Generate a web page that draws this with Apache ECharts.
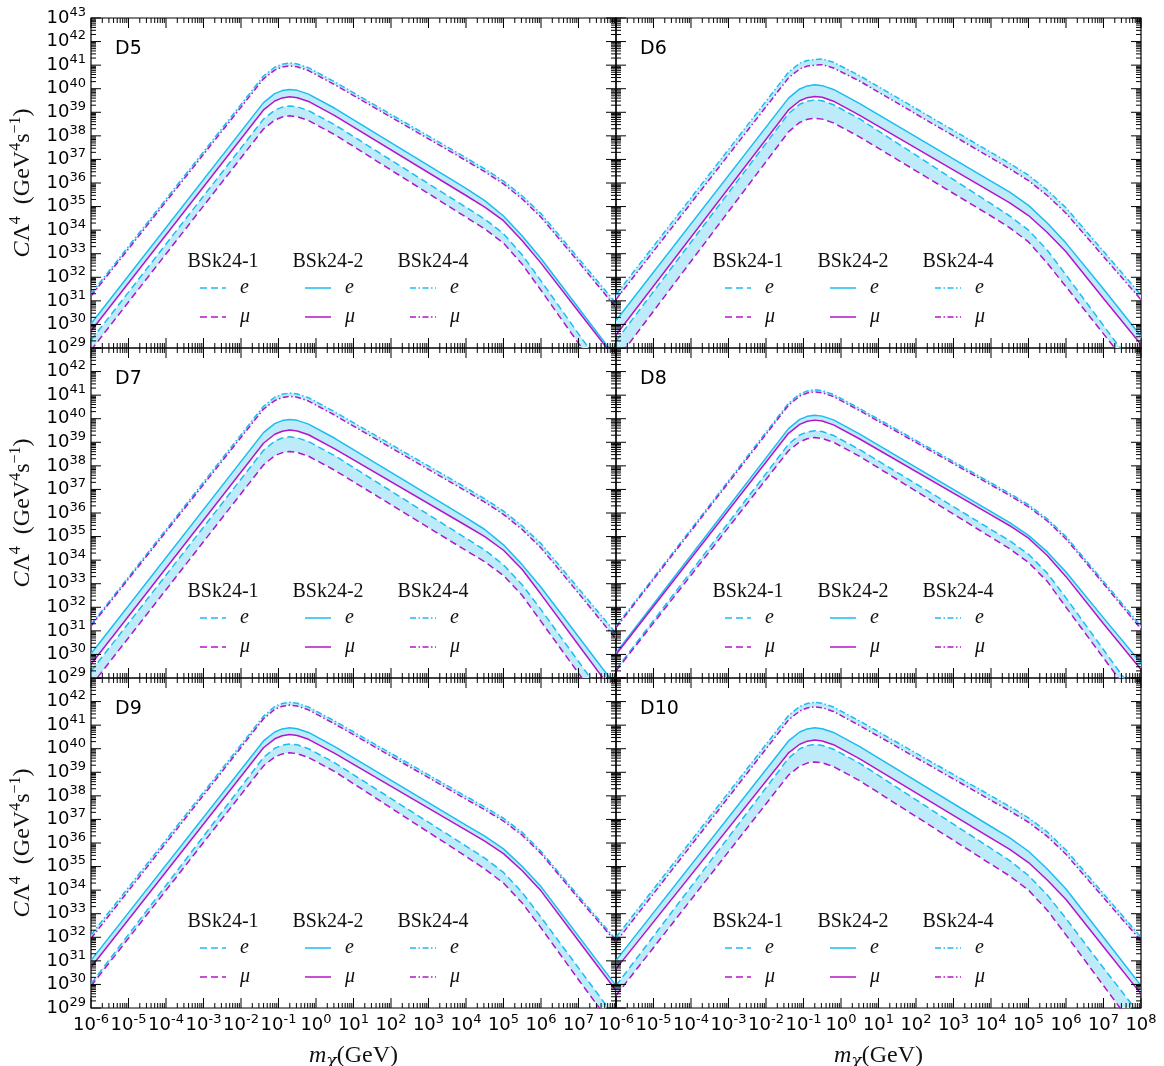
<!DOCTYPE html>
<html>
<head>
<meta charset="utf-8">
<script src="https://cdn.jsdelivr.net/npm/echarts@6/dist/echarts.min.js"></script>
<style>
  html, body { margin: 0; background: #fff; }
  #chart { width: 1164px; height: 1066px; }
</style>
</head>
<body>
<div id="chart"></div>
<script>
const massExp = [-6, -1.4, -1.1, -0.9, -0.7, -0.5, -0.2, 0.5, 4, 4.5, 5, 5.5, 6, 7, 8];

// log10(C Lambda^4 / GeV^4 s^-1) -- BSk24-1 (1), BSk24-2 (2), BSk24-4 (4), e / mu
const d5_1e  = [29.33, 38.71, 39.09, 39.22, 39.27, 39.23, 39.07, 38.47, 34.97, 34.47, 33.85, 32.95, 31.85, 29.6, 27.4];
const d5_1mu = [28.91, 38.29, 38.67, 38.8, 38.85, 38.81, 38.65, 38.05, 34.55, 34.05, 33.45, 32.55, 31.45, 29.2, 27.0];
const d5_2e  = [30.03, 39.41, 39.79, 39.92, 39.97, 39.93, 39.77, 39.17, 35.77, 35.25, 34.6, 33.75, 32.8, 30.7, 28.6];
const d5_2mu = [29.72, 39.1, 39.48, 39.61, 39.66, 39.62, 39.46, 38.86, 35.47, 34.98, 34.4, 33.55, 32.6, 30.55, 28.5];
const d5_4e  = [31.3, 40.54, 40.91, 41.04, 41.09, 41.05, 40.89, 40.29, 37.07, 36.6, 36.08, 35.45, 34.7, 32.8, 30.9];
const d5_4mu = [31.2, 40.42, 40.79, 40.92, 40.97, 40.93, 40.77, 40.17, 36.95, 36.48, 35.96, 35.32, 34.55, 32.65, 30.72];

const d6_1e  = [29.3, 38.94, 39.34, 39.47, 39.52, 39.49, 39.32, 38.72, 35.12, 34.6, 34.0, 33.15, 32.1, 29.95, 27.8];
const d6_1mu = [28.45, 38.17, 38.57, 38.7, 38.75, 38.71, 38.55, 37.95, 34.6, 34.1, 33.5, 32.6, 31.6, 29.6, 27.6];
const d6_2e  = [30.17, 39.6, 39.99, 40.12, 40.17, 40.13, 39.97, 39.37, 36.08, 35.61, 35.05, 34.3, 33.45, 31.5, 29.5];
const d6_2mu = [29.55, 39.1, 39.49, 39.62, 39.67, 39.64, 39.47, 38.87, 35.62, 35.16, 34.62, 33.9, 33.08, 31.1, 29.15];
const d6_4e  = [31.27, 40.7, 41.08, 41.2, 41.24, 41.26, 41.12, 40.55, 37.3, 36.83, 36.33, 35.7, 34.95, 33.1, 31.25];
const d6_4mu = [31.06, 40.46, 40.84, 40.96, 41.0, 41.02, 40.88, 40.32, 37.07, 36.6, 36.1, 35.47, 34.72, 32.88, 31.05];

const d7_1e  = [29.29, 38.66, 39.05, 39.18, 39.23, 39.19, 39.03, 38.43, 34.93, 34.43, 33.8, 32.95, 31.9, 29.7, 27.5];
const d7_1mu = [28.67, 38.04, 38.43, 38.56, 38.61, 38.57, 38.41, 37.81, 34.41, 33.93, 33.35, 32.5, 31.4, 29.2, 27.0];
const d7_2e  = [30.03, 39.41, 39.79, 39.92, 39.97, 39.93, 39.77, 39.17, 35.8, 35.3, 34.65, 33.8, 32.85, 30.75, 28.65];
const d7_2mu = [29.58, 38.96, 39.34, 39.47, 39.52, 39.48, 39.32, 38.72, 35.47, 35.0, 34.42, 33.6, 32.55, 30.4, 28.25];
const d7_4e  = [31.27, 40.53, 40.91, 41.04, 41.09, 41.05, 40.89, 40.29, 37.07, 36.6, 36.08, 35.45, 34.7, 32.8, 30.9];
const d7_4mu = [31.2, 40.41, 40.77, 40.9, 40.95, 40.91, 40.75, 40.15, 36.93, 36.46, 35.94, 35.3, 34.52, 32.6, 30.65];

const d8_1e  = [29.36, 38.92, 39.31, 39.44, 39.49, 39.46, 39.29, 38.69, 35.3, 34.82, 34.25, 33.45, 32.4, 30.2, 28.0];
const d8_1mu = [29.3, 38.64, 39.02, 39.15, 39.2, 39.16, 39.0, 38.4, 34.97, 34.48, 33.9, 33.1, 32.0, 29.85, 27.7];
const d8_2e  = [30.07, 39.58, 39.97, 40.1, 40.15, 40.11, 39.95, 39.35, 36.06, 35.59, 35.05, 34.35, 33.5, 31.55, 29.64];
const d8_2mu = [30.0, 39.38, 39.76, 39.89, 39.94, 39.9, 39.74, 39.14, 35.92, 35.46, 34.93, 34.2, 33.3, 31.3, 29.36];
const d8_4e  = [31.2, 40.66, 41.05, 41.18, 41.23, 41.19, 41.03, 40.43, 37.28, 36.83, 36.35, 35.75, 35.0, 33.1, 31.2];
const d8_4mu = [31.13, 40.57, 40.96, 41.09, 41.14, 41.1, 40.94, 40.34, 37.19, 36.74, 36.26, 35.66, 34.9, 33.0, 31.08];

const d9_1e  = [30.03, 39.63, 40.02, 40.15, 40.2, 40.17, 40.0, 39.4, 35.87, 35.36, 34.75, 33.9, 32.85, 30.7, 28.55];
const d9_1mu = [29.93, 39.27, 39.65, 39.78, 39.83, 39.79, 39.63, 39.03, 35.43, 34.9, 34.3, 33.45, 32.4, 30.2, 28.05];
const d9_2e  = [31.02, 40.33, 40.71, 40.84, 40.89, 40.85, 40.69, 40.09, 36.76, 36.29, 35.75, 35.0, 34.15, 32.05, 29.95];
const d9_2mu = [30.73, 40.04, 40.42, 40.55, 40.6, 40.56, 40.4, 39.8, 36.55, 36.08, 35.55, 34.82, 33.97, 31.85, 29.74];
const d9_4e  = [32.1, 41.38, 41.79, 41.92, 41.97, 41.93, 41.77, 41.17, 37.98, 37.53, 37.05, 36.45, 35.65, 33.75, 31.9];
const d9_4mu = [31.95, 41.27, 41.67, 41.8, 41.85, 41.81, 41.65, 41.05, 37.86, 37.41, 36.93, 36.33, 35.55, 33.65, 31.8];

const d10_1e  = [29.95, 39.6, 40.0, 40.13, 40.18, 40.14, 39.98, 39.38, 35.77, 35.25, 34.62, 33.8, 32.8, 30.7, 28.65];
const d10_1mu = [29.53, 38.88, 39.26, 39.39, 39.44, 39.4, 39.24, 38.64, 35.1, 34.6, 34.0, 33.15, 32.1, 29.95, 27.8];
const d10_2e  = [31.02, 40.33, 40.71, 40.84, 40.89, 40.85, 40.69, 40.09, 36.7, 36.22, 35.65, 34.9, 34.05, 32.0, 29.95];
const d10_2mu = [30.66, 39.82, 40.19, 40.32, 40.37, 40.33, 40.17, 39.57, 36.21, 35.73, 35.17, 34.43, 33.6, 31.6, 29.6];
const d10_4e  = [32.0, 41.41, 41.79, 41.92, 41.97, 41.93, 41.77, 41.17, 38.0, 37.55, 37.07, 36.47, 35.7, 33.85, 32.0];
const d10_4mu = [31.8, 41.22, 41.6, 41.73, 41.78, 41.74, 41.58, 40.98, 37.81, 37.36, 36.88, 36.28, 35.52, 33.68, 31.85];

const modelNames = ['BSk24-1', 'BSk24-2', 'BSk24-4'];
const panelLabels = ['D5', 'D6', 'D7', 'D8', 'D9', 'D10'];
const panelCurves = [
  [d5_1e, d5_1mu, d5_2e, d5_2mu, d5_4e, d5_4mu],
  [d6_1e, d6_1mu, d6_2e, d6_2mu, d6_4e, d6_4mu],
  [d7_1e, d7_1mu, d7_2e, d7_2mu, d7_4e, d7_4mu],
  [d8_1e, d8_1mu, d8_2e, d8_2mu, d8_4e, d8_4mu],
  [d9_1e, d9_1mu, d9_2e, d9_2mu, d9_4e, d9_4mu],
  [d10_1e, d10_1mu, d10_2e, d10_2mu, d10_4e, d10_4mu]
];

const CYAN = '#1bbdf0';
const MAGENTA = '#b514c8';
const BAND = '#bdebfa';
const DASH = [7, 4];
const DASHDOT = [6, 2.5, 1.5, 2.5];
const lineTypes = [DASH, 'solid', DASHDOT];

const GRID_W = 525, GRID_H = 330;
const colLeft = [91, 616];
const rowTop = [18, 348, 678];

const chart = echarts.init(document.getElementById('chart'));

const toPoint = (x, y) => [Math.pow(10, x), Math.pow(10, y)];

/* axis tick label like 10^-6 */
const tickRich = {
  b: { fontSize: 18, lineHeight: 24, fontFamily: 'DejaVu Sans', color: '#000' },
  s: { fontSize: 13, lineHeight: 13, verticalAlign: 'top', fontFamily: 'DejaVu Sans', color: '#000' }
};
function expFormatter(hidden) {
  return function (v) {
    let e = Math.round(Math.log10(v));
    if (hidden.indexOf(e) >= 0) return '';
    return '{b|10}{s|' + e + '}';
  };
}

/* inward major/minor ticks on all four sides, like matplotlib */
function renderTicks(params, api) {
  let cs = params.coordSys;
  let left = cs.x, right = cs.x + cs.width, top = cs.y, bottom = cs.y + cs.height;
  let kids = [];
  let seg = (x1, y1, x2, y2) => kids.push({
    type: 'line', shape: { x1: x1, y1: y1, x2: x2, y2: y2 },
    style: { stroke: '#000', lineWidth: 1 }
  });
  for (let n = -6; n <= 8; n++) {
    for (let k = 1; k <= 9; k++) {
      if (n === 8 && k > 1) break;
      let px = api.coord([k * Math.pow(10, n), 1e36])[0];
      let len = k === 1 ? 10 : 5;
      seg(px, bottom, px, bottom - len);
      seg(px, top, px, top + len);
    }
  }
  for (let n = 29; n <= 43; n++) {
    for (let k = 1; k <= 9; k++) {
      if (n === 43 && k > 1) break;
      let py = api.coord([1, k * Math.pow(10, n)])[1];
      let len = k === 1 ? 10 : 5;
      seg(left, py, left + len, py);
      seg(right, py, right - len, py);
    }
  }
  return { type: 'group', children: kids };
}

/* shaded region between the e and mu curves of one model */
function bandRenderer(upper, lower) {
  return function (params, api) {
    let pts = upper.map((y, i) => api.coord(toPoint(massExp[i], y)));
    for (let i = lower.length - 1; i >= 0; i--) {
      pts.push(api.coord(toPoint(massExp[i], lower[i])));
    }
    return { type: 'polygon', shape: { points: pts }, style: { fill: BAND } };
  };
}

let grids = [], xAxes = [], yAxes = [], series = [], graphics = [];

panelLabels.forEach((label, g) => {
  let row = Math.floor(g / 2), col = g % 2;
  let gx = colLeft[col], gy = rowTop[row];

  grids.push({
    left: gx, top: gy, width: GRID_W, height: GRID_H,
    show: true, borderColor: '#000', borderWidth: 1.2, backgroundColor: 'transparent'
  });

  xAxes.push({
    gridIndex: g, type: 'log', logBase: 10, min: 1e-6, max: 1e8, interval: 1,
    axisLine: { show: false }, axisTick: { show: false }, splitLine: { show: false },
    axisLabel: {
      show: row === 2, margin: 5,
      formatter: expFormatter(col === 0 ? [8] : []),
      rich: tickRich
    }
  });

  yAxes.push({
    gridIndex: g, type: 'log', logBase: 10, min: 1e29, max: 1e43, interval: 1,
    axisLine: { show: false }, axisTick: { show: false }, splitLine: { show: false },
    axisLabel: {
      show: col === 0, margin: 5,
      formatter: expFormatter(row === 0 ? [] : [43]),
      rich: tickRich
    }
  });

  let curves = panelCurves[g];
  for (let m = 0; m < 3; m++) {
    series.push({
      type: 'custom', xAxisIndex: g, yAxisIndex: g, silent: true, clip: true, z: 1,
      data: [[1, 1e36]],
      renderItem: bandRenderer(curves[2 * m], curves[2 * m + 1])
    });
  }
  curves.forEach((arr, k) => {
    series.push({
      type: 'line', xAxisIndex: g, yAxisIndex: g, silent: true, clip: true, z: 2,
      symbol: 'none', animation: false,
      lineStyle: { color: k % 2 === 0 ? CYAN : MAGENTA, width: 1.5, type: lineTypes[Math.floor(k / 2)] },
      data: arr.map((y, i) => toPoint(massExp[i], y))
    });
  });
  series.push({
    type: 'custom', xAxisIndex: g, yAxisIndex: g, silent: true, z: 5,
    data: [[1, 1e36]], renderItem: renderTicks
  });

  // panel tag
  graphics.push({
    type: 'text', left: gx + 24, top: gy + 22,
    style: { text: label, fontSize: 19, fontFamily: 'DejaVu Sans', fill: '#000' }
  });

  // legend block: model headers, e / mu rows
  for (let m = 0; m < 3; m++) {
    let sx = gx + 109 + 105 * m;
    graphics.push({
      type: 'text', x: sx + 23, y: gy + 244,
      style: { text: modelNames[m], fontSize: 20, fontFamily: 'Liberation Serif', fill: '#111', align: 'center', verticalAlign: 'middle' }
    });
    ['e', 'μ'].forEach((lep, r) => {
      let ly = gy + 270 + 29 * r;
      let dash = lineTypes[m];
      graphics.push({
        type: 'line', shape: { x1: sx, y1: ly, x2: sx + 26, y2: ly },
        style: { stroke: r === 0 ? CYAN : MAGENTA, lineWidth: 1.5, lineDash: dash === 'solid' ? null : dash }
      });
      graphics.push({
        type: 'text', x: sx + 40, y: ly,
        style: { text: lep, fontSize: 20, fontStyle: 'italic', fontFamily: 'Liberation Serif', fill: '#111', align: 'left', verticalAlign: 'middle' }
      });
    });
  }

  // axis titles
  if (col === 0) {
    graphics.push({
      type: 'text', x: 23, y: gy + GRID_H / 2, rotation: Math.PI / 2,
      style: {
        text: '{i|C}{n|Λ}{s|4}{n|  (GeV}{s|4}{n|s}{s|−1}{n|)}',
        align: 'center', verticalAlign: 'middle',
        rich: {
          i: { fontSize: 24, lineHeight: 30, fontStyle: 'italic', fontFamily: 'Liberation Serif', fill: '#111' },
          n: { fontSize: 24, lineHeight: 30, fontFamily: 'Liberation Serif', fill: '#111' },
          s: { fontSize: 16, lineHeight: 16, verticalAlign: 'top', fontFamily: 'Liberation Serif', fill: '#111' }
        }
      }
    });
  }
  if (row === 2) {
    graphics.push({
      type: 'text', x: gx + GRID_W / 2, y: 1056,
      style: {
        text: '{i|m}{u|χ}{n|(GeV)}',
        align: 'center', verticalAlign: 'middle',
        rich: {
          i: { fontSize: 24, lineHeight: 28, fontStyle: 'italic', fontFamily: 'Liberation Serif', fill: '#111' },
          n: { fontSize: 24, lineHeight: 28, fontFamily: 'Liberation Serif', fill: '#111' },
          u: { fontSize: 17, lineHeight: 17, verticalAlign: 'bottom', fontStyle: 'italic', fontFamily: 'DejaVu Serif', fill: '#111' }
        }
      }
    });
  }
});

chart.setOption({
  animation: false,
  backgroundColor: '#fff',
  grid: grids,
  xAxis: xAxes,
  yAxis: yAxes,
  series: series,
  graphic: graphics
});
</script>
</body>
</html>
